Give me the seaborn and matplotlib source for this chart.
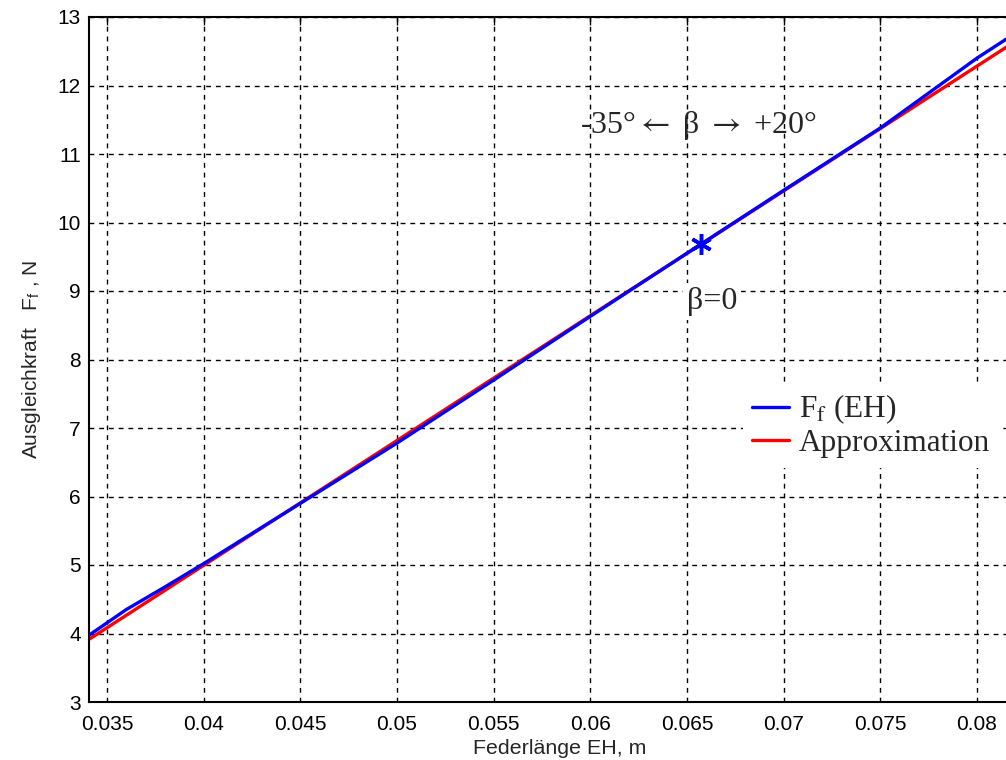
import numpy as np
import pandas as pd
import seaborn as sns
import matplotlib.pyplot as plt
from matplotlib.ticker import FuncFormatter, MultipleLocator

# Federkraft ueber Federlaenge
eh = [0.0341, 0.036, 0.038, 0.040, 0.045, 0.050, 0.055, 0.060, 0.0657, 0.070, 0.075, 0.080, 0.0830]
ff = [3.98, 4.35, 4.68, 5.02, 5.90, 6.78, 7.70, 8.63, 9.68, 10.47, 11.38, 12.40, 12.95]

# lineare Approximation
eh_approx = [0.0341, 0.0830]
ff_approx = [3.92, 12.83]

beta0_x = [0.0657]
beta0_y = [9.68]

xticks = [0.035, 0.04, 0.045, 0.05, 0.055, 0.06, 0.065, 0.07, 0.075, 0.08]

sns.set_style("white")
plt.rcParams['font.family'] = ['Liberation Sans', 'DejaVu Sans']
plt.rcParams['mathtext.fontset'] = 'stix'

fig = plt.figure(figsize=(10.06, 7.6), dpi=100)
ax = fig.add_axes([89 / 1006, 58 / 760, (1030 - 89) / 1006, 685 / 760])

df = pd.DataFrame({'x': eh, 'y': ff})
dfa = pd.DataFrame({'x': eh_approx, 'y': ff_approx})
sns.lineplot(data=df, x='x', y='y', color='blue', lw=2.4, ax=ax, label=r'F$_\mathrm{f}$ (EH)', sort=False)
sns.lineplot(data=dfa, x='x', y='y', color='red', lw=2.4, ax=ax, label='Approximation', sort=False)
ax.lines[0].set_zorder(3)
# asterisk wie in MATLAB
ax.plot(beta0_x, beta0_y, marker=(6, 2, 0), color='blue', ms=15, mew=2.5, ls='none', zorder=4)

ax.set_xlim(0.03407, 0.08274)
ax.set_ylim(3, 13)
ax.set_xticks(xticks)
ax.yaxis.set_major_locator(MultipleLocator(1))
ax.xaxis.set_major_formatter(FuncFormatter(lambda v, p: '%g' % round(v, 4)))

ax.grid(True, color='black', ls=(0, (3.5, 3.5)), lw=1.0)
ax.tick_params(direction='in', length=6, width=1, top=True, right=True,
               labelsize=15, colors='black')
ax.tick_params(axis='x', pad=9)
ax.tick_params(axis='y', pad=6)
for s in ax.spines.values():
    s.set_color('black')
    s.set_linewidth(1.5)

ax.set_xlabel('Federlänge EH, m', fontsize=15.4, labelpad=4)
ax.set_ylabel(r'Ausgleichkraft   F$_\mathregular{f}$ , N', fontsize=15, labelpad=10)

serif = ['Liberation Serif', 'DejaVu Serif']
ax.text(0.0656, 11.42, r'-35°$\leftarrow$ β $\rightarrow$ +20°', fontsize=23, family=serif,
        ha='center', va='center')
ax.text(0.0663, 8.85, 'β=0', fontsize=23, family=serif, ha='center', va='center',
        bbox=dict(facecolor='white', edgecolor='none', pad=3))

leg = ax.legend(loc='upper left', bbox_to_anchor=(0.678, 0.488), frameon=True,
                fancybox=False, prop={'family': serif, 'size': 22.5},
                handlelength=1.2, handletextpad=0.3, borderpad=0.3, labelspacing=0.1)
leg.get_frame().set_edgecolor('none')
leg.get_frame().set_facecolor('white')
leg.get_frame().set_alpha(1)

fig.savefig('out.png', dpi=100)
